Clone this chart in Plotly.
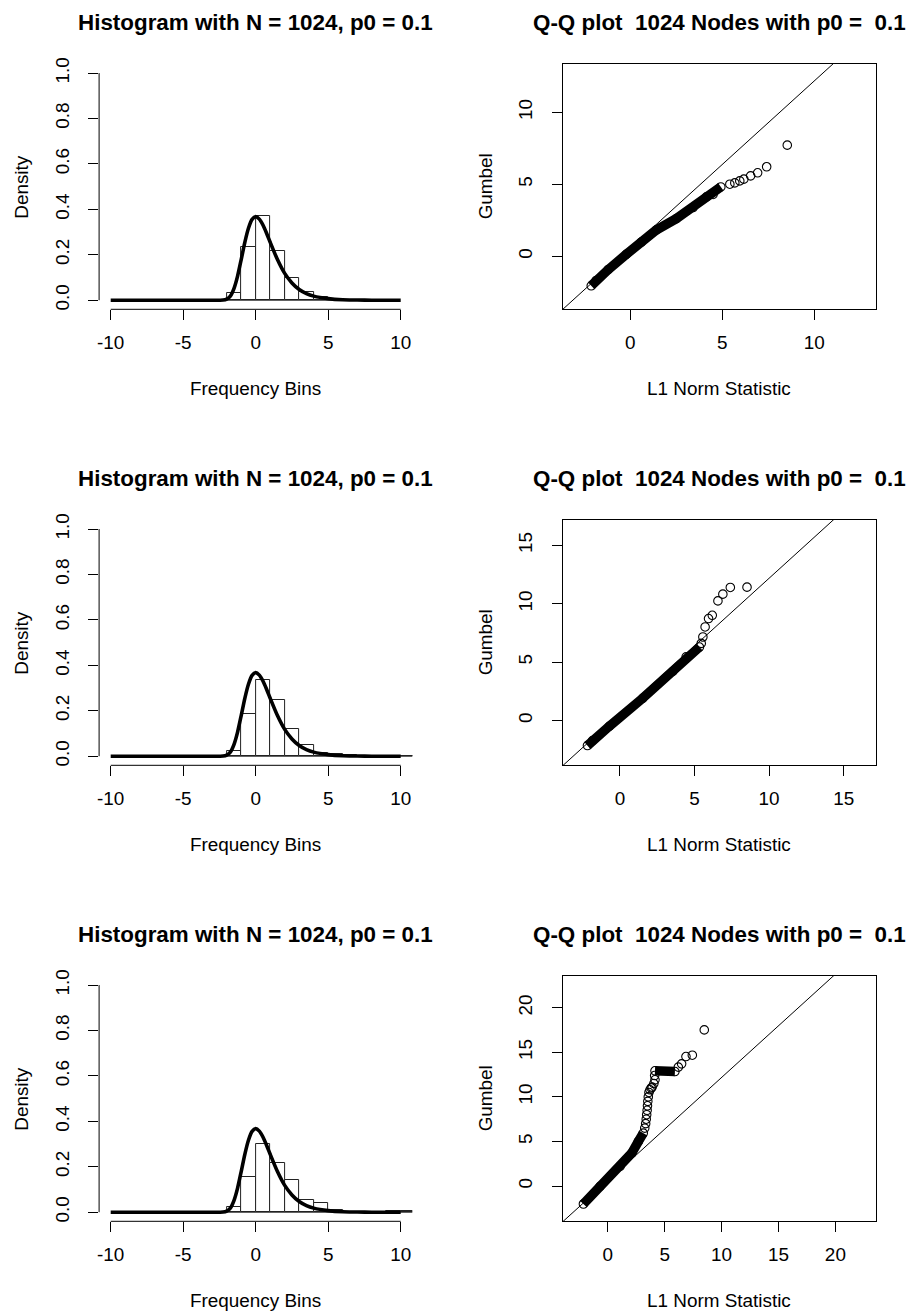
import plotly.graph_objects as go

W, H = 911, 1315
FONT = 'Liberation Sans, Arial, sans-serif'
LABEL_SIZE = 18.9
TITLE_SIZE = 22.4

# ── Text ──────────────────────────────────────────────────────────────────────
HIST_TITLE = 'Histogram with N = 1024, p0 = 0.1'
QQ_TITLE = 'Q-Q plot\u00a0 1024 Nodes with p0 =\u00a0 0.1'
HIST_XLABEL = 'Frequency Bins'
HIST_YLABEL = 'Density'
QQ_XLABEL = 'L1 Norm Statistic'
QQ_YLABEL = 'Gumbel'

HIST_XTICKS = [-10, -5, 0, 5, 10]
HIST_XTICKTEXT = ['-10', '-5', '0', '5', '10']
HIST_YTICKS = [0, 0.2, 0.4, 0.6, 0.8, 1.0]
HIST_YTICKTEXT = ['0.0', '0.2', '0.4', '0.6', '0.8', '1.0']

# ── Histograms (density, unit-width bins given by left edge) ─────────────────
BIN_LEFT_1 = [-2, -1, 0, 1, 2, 3, 4, 5, 6, 7]
DENSITY_1 = [0.032, 0.236, 0.370, 0.215, 0.100, 0.037, 0.012, 0.006, 0.001, 0.001]

BIN_LEFT_2 = [-2, -1, 0, 1, 2, 3, 4, 5, 6, 7, 8, 9, 10, 11]
DENSITY_2 = [0.022, 0.187, 0.336, 0.248, 0.118, 0.049, 0.015, 0.008, 0.004,
             0.001, 0.002, 0.001, 0.002, 0.002]

BIN_LEFT_3 = [-2, -1, 0, 1, 2, 3, 4, 5, 6, 7, 8, 9, 10, 11, 12, 13, 14, 17]
DENSITY_3 = [0.023, 0.154, 0.302, 0.218, 0.144, 0.053, 0.042, 0.008, 0.003,
             0.003, 0.003, 0.004, 0.004, 0.003, 0.012, 0.002, 0.002, 0.001]

# Gumbel density curve
CURVE_X = [-10, -3, -2.5, -2.25, -2, -1.75, -1.5, -1.25, -1, -0.75, -0.5, -0.25,
           0, 0.25, 0.5, 0.75, 1, 1.5, 2, 2.5, 3, 3.5, 4, 5, 6, 7, 8, 10]
CURVE_Y = [0, 0, 0.0001, 0.0007, 0.005, 0.018, 0.051, 0.106, 0.179, 0.255, 0.317, 0.356,
           0.368, 0.357, 0.331, 0.295, 0.255, 0.179, 0.118, 0.076, 0.047, 0.029, 0.018,
           0.007, 0.002, 0.001, 0, 0]

# ── Q-Q plots: dense band (centre line) and separate points ──────────────────
BAND_X_1 = [-2.12, -1.85, -1.2, -0.22, 0.6, 1.41, 2.5, 3.41, 4.14, 4.5, 4.92]
BAND_Y_1 = [-2.04, -1.67, -0.92, 0.14, 0.99, 1.83, 2.62, 3.39, 4.13, 4.3, 4.82]
PTS_X_1 = [5.41, 5.68, 5.95, 6.17, 6.54, 6.92, 7.41, 8.53]
PTS_Y_1 = [5.01, 5.10, 5.24, 5.36, 5.59, 5.80, 6.22, 7.72]

BAND_X_2 = [-2.18, -1.84, -0.72, 1.52, 3.54, 4.44, 5.33]
BAND_Y_2 = [-2.15, -1.72, -0.5, 1.9, 4.2, 5.45, 6.29]
PTS_X_2 = [5.45, 5.56, 5.71, 5.94, 6.19, 6.57, 6.90, 7.40, 8.52]
PTS_Y_2 = [6.6, 7.15, 8.01, 8.73, 9.01, 10.24, 10.82, 11.39, 11.42]

BAND_X_3 = [-2.14, -0.68, 1.08, 2.11, 2.69, 3.12, None, 4.15, 5.90]
BAND_Y_3 = [-2.02, -0.04, 2.20, 3.70, 5.0, 5.94, None, 12.93, 12.85]
PTS_X_3 = [3.25, 3.33, 3.38, 3.42, 3.46, 3.49, 3.52, 3.56, 3.62, 3.71, 3.82, 3.9,
           4.05, 4.15, 4.12, 6.20, 6.49, 6.87, 7.43, 8.48]
PTS_Y_3 = [6.5, 7.0, 7.5, 8.0, 8.5, 9.0, 9.5, 10.0, 10.5, 10.8, 11.0, 11.1,
           11.5, 11.92, 12.4, 13.34, 13.71, 14.53, 14.68, 17.52]

# reference line (same in every panel)
LINE_X = [-4, 20]
LINE_Y = [-4.06, 23.78]

QQ_TICKS_1 = [0, 5, 10]
QQ_TICKS_2 = [0, 5, 10, 15]
QQ_TICKS_3 = [0, 5, 10, 15, 20]

HIST = [(BIN_LEFT_1, DENSITY_1), (BIN_LEFT_2, DENSITY_2), (BIN_LEFT_3, DENSITY_3)]
QQ = [(BAND_X_1, BAND_Y_1, PTS_X_1, PTS_Y_1, QQ_TICKS_1, [-3.67, 13.35]),
      (BAND_X_2, BAND_Y_2, PTS_X_2, PTS_Y_2, QQ_TICKS_2, [-3.84, 17.17]),
      (BAND_X_3, BAND_Y_3, PTS_X_3, PTS_Y_3, QQ_TICKS_3, [-3.96, 23.57])]

# ── Page geometry (pixels) ───────────────────────────────────────────────────
HIST_L, HIST_R = 99.1, 412.3
QQ_L, QQ_R = 562.7, 876.0
ROW_TOP = [64.0, 520.0, 976.0]
ROW_H = 245.3
HIST_XR = [-10.8, 10.8]
HIST_YR = [-0.04, 1.04]


def px(x):
    return x / W


def py(y):
    return 1 - y / H


tickfont = dict(family=FONT, size=LABEL_SIZE, color='black')
axis_common = dict(showgrid=False, zeroline=False, ticks='outside', ticklen=10,
                   tickwidth=1, tickcolor='black', tickfont=tickfont, automargin=False)

fig = go.Figure()
shapes, annotations = [], []

for r in range(3):
    top, bot = ROW_TOP[r], ROW_TOP[r] + ROW_H
    a, b = 2 * r + 1, 2 * r + 2
    xa, ya = f'x{a}', f'y{a}'
    xb, yb = f'x{b}', f'y{b}'

    # histogram panel
    lefts, dens = HIST[r]
    fig.add_trace(go.Bar(x=lefts, y=dens, offset=0, width=1, xaxis=xa, yaxis=ya,
                         marker=dict(color='white', line=dict(color='#222222', width=1))))
    fig.add_trace(go.Scatter(x=[lefts[0], lefts[-1] + 1], y=[0, 0], mode='lines',
                             line=dict(color='#222222', width=1), xaxis=xa, yaxis=ya))
    fig.add_trace(go.Scatter(x=CURVE_X, y=CURVE_Y, mode='lines', xaxis=xa, yaxis=ya,
                             line=dict(color='black', width=3.6, shape='spline', smoothing=0.6)))

    fig.layout[f'xaxis{a}'] = dict(domain=[px(HIST_L), px(HIST_R)], anchor=ya, range=HIST_XR,
                                   tickvals=HIST_XTICKS, ticktext=HIST_XTICKTEXT,
                                   ticklabelstandoff=6, showline=False, **axis_common)
    fig.layout[f'yaxis{a}'] = dict(domain=[py(bot), py(top)], anchor=xa, range=HIST_YR,
                                   tickvals=HIST_YTICKS, ticktext=HIST_YTICKTEXT,
                                   ticklabelstandoff=12, tickangle=-90, showline=False,
                                   **axis_common)

    # axis lines spanning only the tick range, as R draws them
    sx = (HIST_R - HIST_L) / (HIST_XR[1] - HIST_XR[0])
    sy = ROW_H / (HIST_YR[1] - HIST_YR[0])
    x0 = HIST_L + (HIST_XTICKS[0] - HIST_XR[0]) * sx
    x1 = HIST_L + (HIST_XTICKS[-1] - HIST_XR[0]) * sx
    y0 = bot - (HIST_YTICKS[0] - HIST_YR[0]) * sy
    y1 = bot - (HIST_YTICKS[-1] - HIST_YR[0]) * sy
    line = dict(color='black', width=1)
    shapes.append(dict(type='line', xref='paper', yref='paper', x0=px(x0), x1=px(x1),
                       y0=py(bot), y1=py(bot), line=line))
    shapes.append(dict(type='line', xref='paper', yref='paper', x0=px(HIST_L), x1=px(HIST_L),
                       y0=py(y0), y1=py(y1), line=line))

    # Q-Q panel
    bx, by, qx, qy, qticks, qrange = QQ[r]
    fig.add_trace(go.Scatter(x=LINE_X, y=LINE_Y, mode='lines', xaxis=xb, yaxis=yb,
                             line=dict(color='black', width=1)))
    fig.add_trace(go.Scatter(x=bx, y=by, mode='lines+markers', xaxis=xb, yaxis=yb,
                             line=dict(color='black', width=9.5),
                             marker=dict(symbol='circle-open', size=8.5, color='black',
                                         line=dict(width=1.1))))
    fig.add_trace(go.Scatter(x=qx, y=qy, mode='markers', xaxis=xb, yaxis=yb,
                             marker=dict(symbol='circle-open', size=8.5, color='black',
                                         line=dict(width=1.1))))

    fig.layout[f'xaxis{b}'] = dict(domain=[px(QQ_L), px(QQ_R)], anchor=yb, range=qrange,
                                   tickvals=qticks, showline=True, mirror=True,
                                   ticklabelstandoff=6,
                                   linecolor='black', linewidth=1, **axis_common)
    fig.layout[f'yaxis{b}'] = dict(domain=[py(bot), py(top)], anchor=xb, range=qrange,
                                   tickvals=qticks, tickangle=-90, showline=True, mirror=True,
                                   ticklabelstandoff=12,
                                   linecolor='black', linewidth=1, **axis_common)

    # titles and axis labels
    title_font = dict(family=FONT, size=TITLE_SIZE, color='black', weight='bold')
    label_font = dict(family=FONT, size=LABEL_SIZE, color='black')
    for (l, rr, ttl, xl, yl) in [(HIST_L, HIST_R, HIST_TITLE, HIST_XLABEL, HIST_YLABEL),
                                 (QQ_L, QQ_R, QQ_TITLE, QQ_XLABEL, QQ_YLABEL)]:
        cx = (l + rr) / 2
        annotations.append(dict(text=f'<b>{ttl}</b>', x=px(cx), y=py(top - 42), xref='paper',
                                yref='paper', showarrow=False, xanchor='center', yanchor='middle',
                                font=title_font))
        annotations.append(dict(text=xl, x=px(cx), y=py(bot + 79), xref='paper', yref='paper',
                                showarrow=False, xanchor='center', yanchor='middle',
                                font=label_font))
        annotations.append(dict(text=yl, x=px(l - 77), y=py((top + bot) / 2), xref='paper',
                                yref='paper', showarrow=False, xanchor='center',
                                yanchor='middle', textangle=-90, font=label_font))

fig.update_layout(template='none', width=W, height=H, margin=dict(l=0, r=0, t=0, b=0),
                  paper_bgcolor='white', plot_bgcolor='white', showlegend=False,
                  bargap=0, shapes=shapes, annotations=annotations,
                  font=dict(family=FONT, color='black'))

fig.write_html('out.html', config={'displayModeBar': False},
               post_script="document.body.style.margin='0px';")
